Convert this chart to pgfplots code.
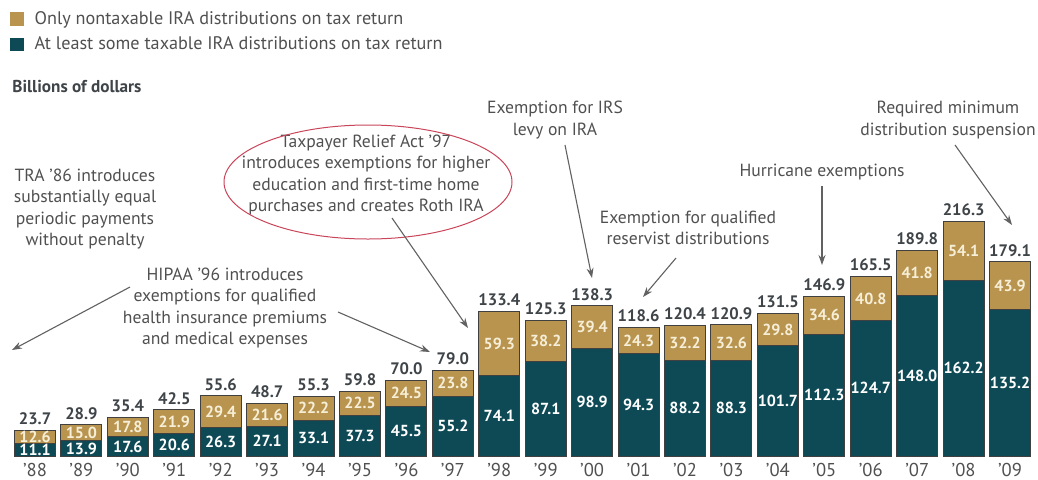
\documentclass[border=0pt]{standalone}
\usepackage{pgfplots}
\usepackage{pgfplotstable}
\pgfplotsset{compat=1.18}
\usepackage{fontspec}
\setmainfont{PT Sans}
\usetikzlibrary{arrows.meta}
\definecolor{irtan}{HTML}{B8944F}
\definecolor{irteal}{HTML}{0E4A55}
\definecolor{anngray}{HTML}{505050}
\definecolor{valgray}{HTML}{3F4448}
\definecolor{cream}{HTML}{F6EED6}
\definecolor{ellred}{HTML}{C8455A}

\pgfplotstableread{
x a b t yr
0 11.1 12.6 23.7 ’88
1 13.9 15.0 28.9 ’89
2 17.6 17.8 35.4 ’90
3 20.6 21.9 42.5 ’91
4 26.3 29.4 55.6 ’92
5 27.1 21.6 48.7 ’93
6 33.1 22.2 55.3 ’94
7 37.3 22.5 59.8 ’95
8 45.5 24.5 70.0 ’96
9 55.2 23.8 79.0 ’97
10 74.1 59.3 133.4 ’98
11 87.1 38.2 125.3 ’99
12 98.9 39.4 138.3 ’00
13 94.3 24.3 118.6 ’01
14 88.2 32.2 120.4 ’02
15 88.3 32.6 120.9 ’03
16 101.7 29.8 131.5 ’04
17 112.3 34.6 146.9 ’05
18 124.7 40.8 165.5 ’06
19 148.0 41.8 189.8 ’07
20 162.2 54.1 216.3 ’08
21 135.2 43.9 179.1 ’09
}\data

\pgfplotsset{
  commonax/.style={
    scale only axis, width=519pt, height=239.5pt,
    xmin=-0.754, xmax=21.602, ymin=-21.2, ymax=420.3,
    hide axis, clip=false, at={(0,0)}, anchor=south west,
  },
  lbl/.style={draw=none, mark=none, nodes near coords, point meta=explicit symbolic,
    every node near coord/.append style={anchor=center, inner sep=0pt}},
}

\begin{document}
\begin{tikzpicture}
\begin{axis}[commonax,
  ybar stacked, bar width=20.5pt,
  legend style={at={(0,1)}, anchor=north west, xshift=5pt, yshift=-4.5pt,
    draw=none, fill=none, inner sep=0pt, row sep=2.6pt,
    font=\fontsize{9.1}{10}\selectfont, text=anngray,
    nodes={inner sep=1pt},
    /tikz/every odd column/.append style={column sep=4.2pt}},
  legend cell align=left, reverse legend,
]
\addplot[fill=irteal, draw=black!75, line width=0.5pt,
  legend image code/.code={\fill[irteal] (0pt,-3.2pt) rectangle (6.4pt,3.2pt);}]
  table[x=x, y=a] {\data};
\addlegendentry{At least some taxable IRA distributions on tax return}
\addplot[fill=irtan, draw=black!75, line width=0.5pt,
  legend image code/.code={\fill[irtan] (0pt,-3.2pt) rectangle (6.4pt,3.2pt);}]
  table[x=x, y=b] {\data};
\addlegendentry{Only nontaxable IRA distributions on tax return}
\end{axis}

\begin{axis}[commonax]
\addplot[lbl, every node near coord/.append style={text=white, font=\fontsize{8}{9}\selectfont\bfseries}]
  table[x=x, y expr=\thisrow{a}/2, meta=a] {\data};
\addplot[lbl, every node near coord/.append style={text=cream, font=\fontsize{8}{9}\selectfont\bfseries}]
  table[x=x, y expr=\thisrow{a}+\thisrow{b}/2, meta=b] {\data};
\addplot[lbl, every node near coord/.append style={text=valgray, anchor=south, yshift=2.5pt, font=\fontsize{8.3}{9}\selectfont\bfseries}]
  table[x=x, y=t, meta=t] {\data};
\addplot[lbl, every node near coord/.append style={text=anngray, font=\fontsize{9.3}{10}\selectfont}]
  table[x=x, y expr=-12.9, meta=yr] {\data};
\end{axis}

\begin{scope}[shift={(0pt,239.5pt)}, x=0.5pt, y=-0.5pt,
  every node/.style={text=anngray, font=\fontsize{8.8}{10.75}\selectfont, align=center, inner sep=0pt},
  arr/.style={draw=anngray!90, line width=0.55pt, -{Stealth[length=5pt,width=3.5pt]}}]
\node[anchor=west, font=\fontsize{8.6}{9}\selectfont\bfseries, text=valgray] at (12,87) {Billions of dollars};
\node at (85,209) {TRA ’86 introduces\\substantially equal\\periodic payments\\without penalty};
\draw[arr] (130,287) -- (12,350);
\node at (225,308) {HIPAA ’96 introduces\\exemptions for qualified\\health insurance premiums\\and medical expenses};
\draw[arr] (338,312) -- (430,352);
\node at (366,175) {Taxpayer Relief Act ’97\\introduces exemptions for higher\\education and first-time home\\purchases and creates Roth IRA};
\draw[ellred, line width=0.5pt] (368,182) ellipse [x radius=144, y radius=57];
\draw[arr] (392,218) -- (468,328);
\node at (555,120) {Exemption for IRS\\levy on IRA};
\draw[arr] (565,145) -- (592,278);
\node at (688,228) {Exemption for qualified\\reservist distributions};
\draw[arr] (676,258) -- (643,297);
\node at (822,172) {Hurricane exemptions};
\draw[arr] (822,186) -- (822,265);
\node at (948,120) {Required minimum\\distribution suspension};
\draw[arr] (955,145) -- (1012,225);
\end{scope}

\pgfresetboundingbox
\path (0,0) rectangle (519pt,239.5pt);
\end{tikzpicture}
\end{document}
